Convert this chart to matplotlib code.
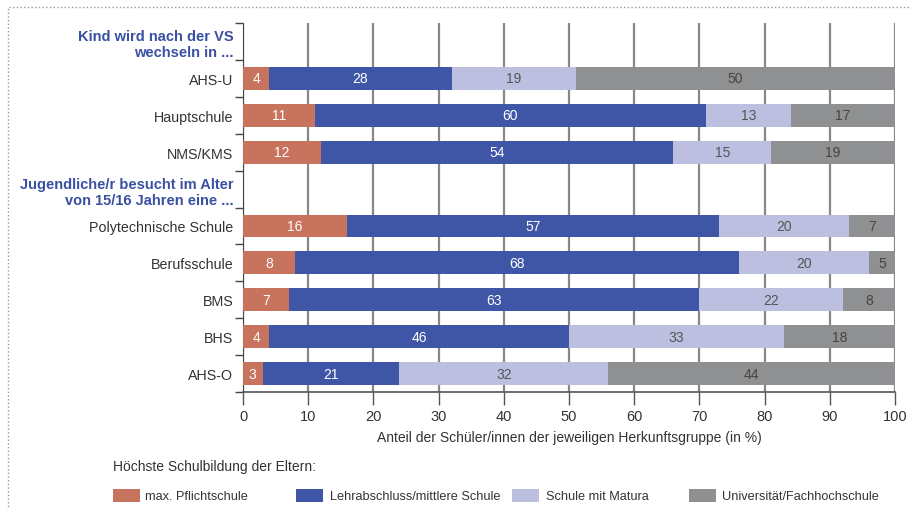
import numpy as np
from matplotlib import pyplot as plt
from matplotlib.patches import Rectangle

plt.rcParams['font.family'] = ['Liberation Sans', 'DejaVu Sans']
plt.rcParams['font.size'] = 10

# Zeilen von oben nach unten (Überschriftszeilen ohne Balken)
rows = ['Kind wird nach der VS\nwechseln in ...', 'AHS-U', 'Hauptschule', 'NMS/KMS',
        'Jugendliche/r besucht im Alter\nvon 15/16 Jahren eine ...',
        'Polytechnische Schule', 'Berufsschule', 'BMS', 'BHS', 'AHS-O']
is_header = [True, False, False, False, True, False, False, False, False, False]

pflicht = [0, 4, 11, 12, 0, 16, 8, 7, 4, 3]
lehre = [0, 28, 60, 54, 0, 57, 68, 63, 46, 21]
matura = [0, 19, 13, 15, 0, 20, 20, 22, 33, 32]
uni = [0, 50, 17, 19, 0, 7, 5, 8, 18, 44]

series = [pflicht, lehre, matura, uni]
names = ['max. Pflichtschule', 'Lehrabschluss/mittlere Schule', 'Schule mit Matura',
         'Universität/Fachhochschule']
colors = ['#c8735d', '#3f56a6', '#bcbfe0', '#8f9092']
txt_colors = ['white', 'white', '#555555', '#444444']

fig = plt.figure(figsize=(9.11, 5.10), dpi=100)
ax = fig.add_axes([243/911, 1-393/510, (895-243)/911, (393-24)/510])

y = np.arange(len(rows))
left = np.zeros(len(rows))
for vals, c, tc in zip(series, colors, txt_colors):
    vals = np.array(vals, dtype=float)
    ax.barh(y, vals, left=left, height=0.62, color=c, zorder=3)
    for yi, l, v in zip(y, left, vals):
        if v > 0:
            xc = (l + min(l + v, 100)) / 2
            ax.text(xc, yi, f'{int(v)}', ha='center', va='center', color=tc,
                    fontsize=10, zorder=4)
    left += vals

ax.set_xlim(0, 100)
ax.set_ylim(len(rows) - 0.5, -0.5)
ax.set_xticks(np.arange(0, 101, 10))
ax.set_yticks(y)
ax.set_yticklabels(rows, fontsize=10.3)
for lab, h in zip(ax.get_yticklabels(), is_header):
    if h:
        lab.set_color('#3a50a3')
        lab.set_fontweight('bold')
        lab.set_fontsize(10.5)
    else:
        lab.set_color('#333333')
ax.set_yticks(np.arange(-0.5, len(rows)), minor=True)
ax.tick_params(axis='y', which='major', length=0, pad=7)
ax.tick_params(axis='y', which='minor', length=6, color='#444444', width=1)
ax.tick_params(axis='x', length=9, color='#555555', width=1, labelsize=10.5,
               labelcolor='#333333', pad=3)

ax.grid(axis='x', color='#888888', linewidth=1.6, zorder=0)
for s in ['top', 'right']:
    ax.spines[s].set_visible(False)
ax.spines['left'].set_color('#444444')
ax.spines['bottom'].set_color('#555555')
ax.spines['bottom'].set_linewidth(1.2)

ax.set_xlabel('Anteil der Schüler/innen der jeweiligen Herkunftsgruppe (in %)',
              fontsize=10, color='#333333', labelpad=5)

fig.text(113/911, 1-467/510, 'Höchste Schulbildung der Eltern:', fontsize=10,
         color='#333333', va='center')

# Legende von Hand gesetzt
patch_x = [113, 296, 512, 689]
text_x = [145, 330, 546, 722]
for px, tx, c, n in zip(patch_x, text_x, colors, names):
    fig.patches.append(Rectangle((px/911, 1-503/510), 27/911, 13/510,
                                 transform=fig.transFigure, facecolor=c,
                                 edgecolor='none'))
    fig.text(tx/911, 1-497/510, n, fontsize=9.2, color='#333333', va='center')

fig.patches.append(Rectangle((8/911, -0.1), 1.2, 1.1 - 8/510, transform=fig.transFigure,
                             fill=False, linestyle=':', edgecolor='#999999',
                             linewidth=1))

fig.savefig('out.png', dpi=100)
